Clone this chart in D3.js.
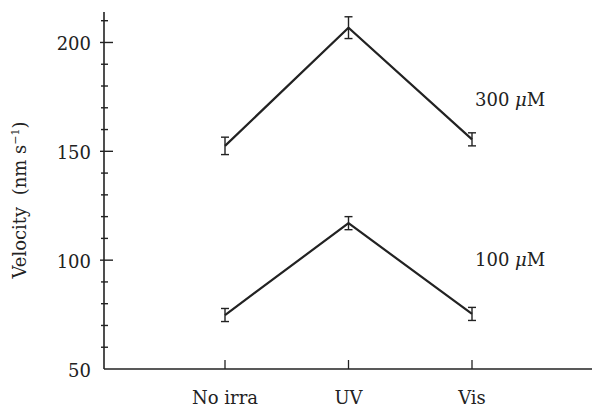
<!DOCTYPE html>
<html><head><meta charset="utf-8">
<script src="https://cdn.jsdelivr.net/npm/d3@7"></script>
<style>body{margin:0;background:#fff}svg{display:block}text{font-family:"DejaVu Serif","Liberation Serif",serif;fill:#222;white-space:pre}</style>
</head><body><svg width="592" height="407"></svg>
<script>
const categories = ["No irra", "UV", "Vis"];
const series300 = [152.5, 206.8, 155.5];
const err300 = [4, 5, 3];
const series100 = [74.8, 117.0, 75.3];
const err100 = [3, 3, 3];
const seriesLabels = ["300 μM", "100 μM"];
const yMajorTicks = [50, 100, 150, 200];
const yMinorTicks = [60, 70, 80, 90, 110, 120, 130, 140, 160, 170, 180, 190, 210];

const svg = d3.select("svg");
const ink = "#222";
const y = d3.scaleLinear().domain([50, 214]).range([369, 12]);
const x = d3.scalePoint().domain(categories).range([225, 472]);
const x0 = 104, xEnd = 592;
const fs = 18;

svg.append("line").attr("x1", x0).attr("x2", x0).attr("y1", y(214)).attr("y2", y(50)).attr("stroke", ink).attr("stroke-width", 1.6);
svg.append("line").attr("x1", x0).attr("x2", xEnd).attr("y1", y(50)).attr("y2", y(50)).attr("stroke", ink).attr("stroke-width", 1.6);

svg.selectAll(".maj").data(yMajorTicks.filter(d => d > 50)).enter().append("line")
  .attr("x1", x0 - 4).attr("x2", x0 + 9).attr("y1", d => y(d)).attr("y2", d => y(d)).attr("stroke", ink).attr("stroke-width", 1.4);
svg.selectAll(".min").data(yMinorTicks).enter().append("line")
  .attr("x1", x0 - 3).attr("x2", x0 + 4).attr("y1", d => y(d)).attr("y2", d => y(d)).attr("stroke", ink).attr("stroke-width", 1.4);
svg.selectAll(".yl").data(yMajorTicks).enter().append("text")
  .attr("x", 91).attr("y", d => y(d) + 8).attr("text-anchor", "end").attr("font-size", fs).text(d => d);

svg.selectAll(".xt").data(categories).enter().append("line")
  .attr("x1", d => x(d)).attr("x2", d => x(d)).attr("y1", y(50) - 9).attr("y2", y(50)).attr("stroke", ink).attr("stroke-width", 1.3);
svg.selectAll(".xl").data(categories).enter().append("text")
  .attr("x", d => x(d)).attr("y", 404).attr("text-anchor", "middle").attr("font-size", fs).text(d => d);

const yl = svg.append("text").attr("transform", "translate(26,200) rotate(-90)").attr("text-anchor", "middle").attr("font-size", fs);
yl.append("tspan").text("Velocity  (nm s");
yl.append("tspan").attr("dy", -7).attr("font-size", 11).text("−1");
yl.append("tspan").attr("dy", 7).text(")");

const line = d3.line().x((d, i) => x(categories[i])).y(d => y(d));
function drawSeries(vals, errs, label, ly) {
  svg.append("path").datum(vals).attr("d", line).attr("fill", "none").attr("stroke", ink).attr("stroke-width", 2.2);
  vals.forEach((v, i) => {
    const cx = x(categories[i]);
    const g = svg.append("g").attr("stroke", ink).attr("stroke-width", 1.4);
    g.append("line").attr("x1", cx).attr("x2", cx).attr("y1", y(v + errs[i])).attr("y2", y(v - errs[i]));
    g.append("line").attr("x1", cx - 4).attr("x2", cx + 4).attr("y1", y(v + errs[i])).attr("y2", y(v + errs[i]));
    g.append("line").attr("x1", cx - 4).attr("x2", cx + 4).attr("y1", y(v - errs[i])).attr("y2", y(v - errs[i]));
  });
  const parts = label.split(" ");
  const t = svg.append("text").attr("x", 475).attr("y", ly).attr("font-size", fs);
  t.append("tspan").text(parts[0] + " ");
  t.append("tspan").attr("font-style", "italic").text("μ");
  t.append("tspan").text("M");
}
drawSeries(series300, err300, seriesLabels[0], 106);
drawSeries(series100, err100, seriesLabels[1], 266);
</script></body></html>
